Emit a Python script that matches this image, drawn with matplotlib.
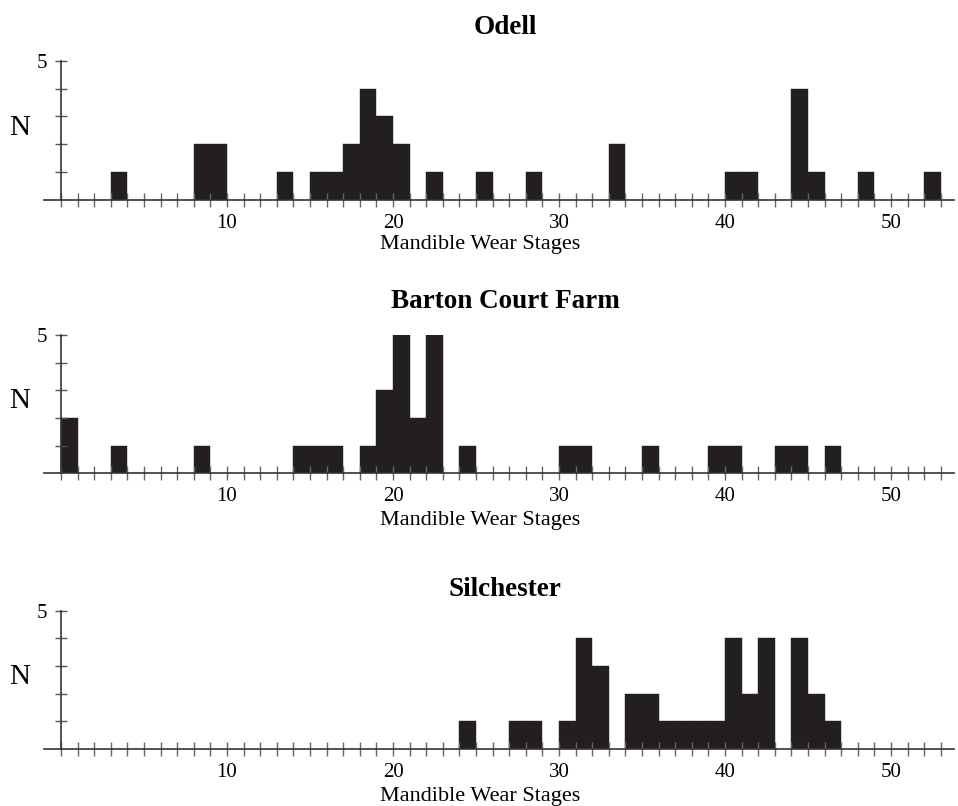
import matplotlib
matplotlib.use('Agg')
import matplotlib.pyplot as plt
import numpy as np

# wear stage (left edge of 1-unit bin) -> count
odell_stage = [3, 8, 9, 13, 15, 16, 17, 18, 19, 20, 22, 25, 28, 33, 40, 41, 44, 45, 48, 52]
odell_n = [1, 2, 2, 1, 1, 1, 2, 4, 3, 2, 1, 1, 1, 2, 1, 1, 4, 1, 1, 1]

barton_stage = [0, 3, 8, 14, 15, 16, 18, 19, 20, 21, 22, 24, 30, 31, 35, 39, 40, 43, 44, 46]
barton_n = [2, 1, 1, 1, 1, 1, 1, 3, 5, 2, 5, 1, 1, 1, 1, 1, 1, 1, 1, 1]

silch_stage = [24, 27, 28, 30, 31, 32, 34, 35, 36, 37, 38, 39, 40, 41, 42, 44, 45, 46]
silch_n = [1, 1, 1, 1, 4, 3, 2, 2, 1, 1, 1, 1, 4, 2, 4, 4, 2, 1]

sites = ['Odell', 'Barton Court Farm', 'Silchester']
xticks_major = [10, 20, 30, 40, 50]

plt.rcParams['font.family'] = ['Liberation Serif', 'DejaVu Serif']

W, H = 958, 806
fig = plt.figure(figsize=(W / 100, H / 100), dpi=100)

# (zero line y px, five line y px, title y px, xlabel y px)
panels = [(200, 60.7, 28, 245), (473.3, 335, 301, 521), (749, 610.7, 590, 796)]
data = [(odell_stage, odell_n), (barton_stage, barton_n), (silch_stage, silch_n)]

x0_px = 61
px_per = 16.6
left_px = x0_px - 1 * px_per
right_px = x0_px + 53.8 * px_per
dark = '#231f20'

for (y0, y5, ty, ly), (stage, n), name in zip(panels, data, sites):
    ax = fig.add_axes([left_px / W, (H - y0) / H, (right_px - left_px) / W, (y0 - y5) / H])
    ax.bar(stage, n, width=1, align='edge', color=dark, edgecolor=dark, linewidth=0.3, zorder=2)
    ax.set_axisbelow(False)
    ax.set_xlim(-1, 53.8)
    ax.set_ylim(0, 5)
    ax.spines['top'].set_visible(False)
    ax.spines['right'].set_visible(False)
    ax.spines['left'].set_position(('data', 0))
    ax.spines['left'].set_bounds(0, 5)
    for s in ['left', 'bottom']:
        ax.spines[s].set_color('#333333')
        ax.spines[s].set_linewidth(1.2)
        ax.spines[s].set_zorder(3)
    ax.set_xticks(np.arange(0, 54))
    ax.set_xticklabels([str(i) if i in xticks_major else '' for i in range(54)], fontsize=15)
    ax.set_yticks([1, 2, 3, 4, 5])
    ax.set_yticklabels(['', '', '', '', '5'], fontsize=15)
    ax.tick_params(axis='x', direction='inout', length=9.5, width=1, color='#666666', pad=5)
    ax.tick_params(axis='y', direction='inout', length=8, width=1, color='#555555', pad=6)
    ax.text(-2.5, 2.6, 'N', fontsize=21, ha='center', va='center')
    ax.patch.set_alpha(0)
    fig.text(505 / W, 1 - ty / H, name, fontsize=19.5, fontweight='bold', ha='center', va='center')
    fig.text(480 / W, 1 - ly / H, 'Mandible Wear Stages', fontsize=16, ha='center', va='center')

fig.savefig('out.png', dpi=100)
